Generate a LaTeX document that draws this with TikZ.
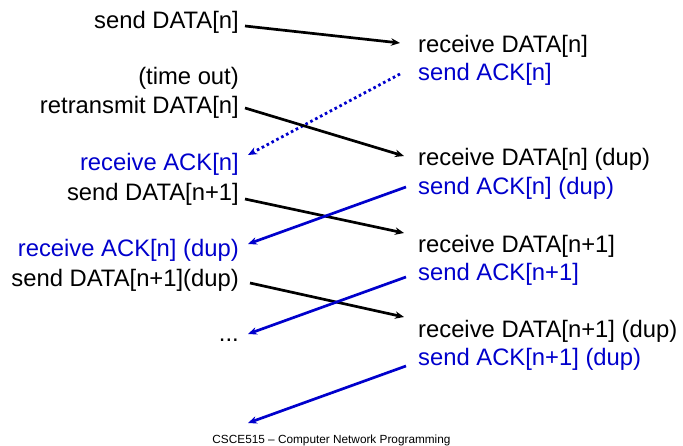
\documentclass[tikz,border=0pt]{standalone}
\usepackage{fontspec}
\setmainfont{Liberation Sans}
\usetikzlibrary{arrows.meta,calc}
\definecolor{ackblue}{RGB}{0,0,204}
\begin{document}
\begin{tikzpicture}[x=1pt,y=-1pt,
  lbl/.style={inner sep=0pt,font=\fontsize{23.8}{28}\selectfont},
  lft/.style={lbl,anchor=base east},
  rgt/.style={lbl,anchor=base west},
  ack/.style={text=ackblue},
  data/.style={draw=black,line width=2.7pt,-{Stealth[length=9pt,width=7.5pt]}},
  ackline/.style={draw=ackblue,line width=2.7pt,-{Stealth[length=9pt,width=7.5pt]}},
  lost/.style={draw=ackblue,line width=2.8pt,dash pattern=on 2.6pt off 2.9pt,-{Stealth[length=9pt,width=7.5pt]}}]
\useasboundingbox (0,0) rectangle (683,446);
% left column
\node[lft] (sd)  at (239,29)  {send DATA[n]};
\node[lft] (to)  at (239,85)  {(time out)};
\node[lft] (rt)  at (239,114) {retransmit DATA[n]};
\node[lft,ack] (ra1) at (239,171) {receive ACK[n]};
\node[lft] (sd1) at (239,201) {send DATA[n+1]};
\node[lft,ack] (ra2) at (239,257) {receive ACK[n] (dup)};
\node[lft] (sd2) at (239,287) {send DATA[n+1](dup)};
\node[lft] (dots) at (239,342) {...};
% right column
\node[rgt] (rd1) at (418,53)  {receive DATA[n]};
\node[rgt,ack] (sa1) at (418,81)  {send ACK[n]};
\node[rgt] (rd2) at (418,166) {receive DATA[n] (dup)};
\node[rgt,ack] (sa2) at (418,195) {send ACK[n] (dup)};
\node[rgt] (rd3) at (418,253) {receive DATA[n+1]};
\node[rgt,ack] (sa3) at (418,281) {send ACK[n+1]};
\node[rgt] (rd4) at (418,338) {receive DATA[n+1] (dup)};
\node[rgt,ack] (sa4) at (418,366) {send ACK[n+1] (dup)};
% footer
\node[inner sep=0pt,anchor=base,font=\fontsize{11.8}{14}\selectfont] (foot) at (331.5,443) {CSCE515 -- Computer Network Programming};
% free end
\coordinate (endlast) at (248,423);
% connectors
\draw[data] ($(sd.base east)+(6,-3)$) -- ($(rd1.base west)+(-18,-10)$);
\draw[lost] ($(sa1.base west)+(-18,-7)$) -- ($(ra1.base east)+(9,-16)$);
\draw[data] ($(rt.base east)+(6,-6)$) -- ($(rd2.base west)+(-14,-10)$);
\draw[data] ($(sd1.base east)+(6,-2)$) -- ($(rd3.base west)+(-14,-20)$);
\draw[ackline] ($(sa2.base west)+(-12,-8)$) -- ($(ra2.base east)+(9,-13)$);
\draw[data] ($(sd2.base east)+(11,-4)$) -- ($(rd4.base west)+(-14,-21)$);
\draw[ackline] ($(sa3.base west)+(-12,-4)$) -- ($(dots.base east)+(9,-8)$);
\draw[ackline] ($(sa4.base west)+(-12,0)$) -- (endlast);
\end{tikzpicture}
\end{document}
